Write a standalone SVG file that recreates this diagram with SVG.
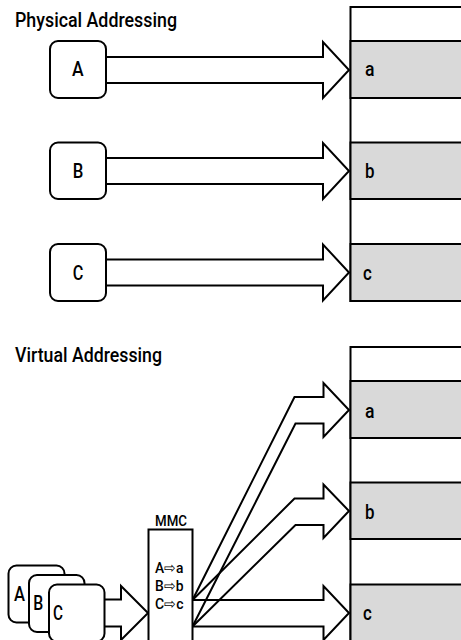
<svg xmlns="http://www.w3.org/2000/svg" width="461" height="640" viewBox="0 0 461 640">
<style>
  .t { font-family: "Roboto", "Liberation Sans", sans-serif; font-weight: 500; fill: #000; }
  .title { font-size: 20px; }
  .lbl { font-size: 21px; }
  .box { fill: #fff; stroke: #000; stroke-width: 2; }
  .mem { fill: #fff; stroke: #000; stroke-width: 2; }
  .row { fill: #d9d9d9; stroke: #000; stroke-width: 2; }
  .arr { fill: #fff; stroke: #000; stroke-width: 2; stroke-linejoin: miter; }
  .bent { fill: none; stroke: #000; stroke-width: 2; stroke-linejoin: miter; }
</style>

<text class="t title" x="15" y="26.5" textLength="162" lengthAdjust="spacingAndGlyphs">Physical Addressing</text>
<text class="t title" x="15" y="362" textLength="147" lengthAdjust="spacingAndGlyphs">Virtual Addressing</text>

<!-- Physical memory column -->
<g id="physical-memory">
  <rect class="mem" x="350.5" y="7" width="130" height="294"/>
  <rect class="row" x="350.5" y="41" width="130" height="57"/>
  <rect class="row" x="350.5" y="142.5" width="130" height="56.5"/>
  <rect class="row" x="350.5" y="244" width="130" height="57"/>
  <text class="t lbl" x="365" y="76" textLength="9.5" lengthAdjust="spacingAndGlyphs">a</text>
  <text class="t lbl" x="365" y="177.5" textLength="9.5" lengthAdjust="spacingAndGlyphs">b</text>
  <text class="t lbl" x="363" y="280" textLength="8.8" lengthAdjust="spacingAndGlyphs">c</text>
</g>

<!-- Virtual memory column -->
<g id="virtual-memory">
  <rect class="mem" x="350.5" y="347" width="130" height="310"/>
  <rect class="row" x="350.5" y="381" width="130" height="57"/>
  <rect class="row" x="350.5" y="482.5" width="130" height="56.5"/>
  <rect class="row" x="350.5" y="584.5" width="130" height="70"/>
  <text class="t lbl" x="365" y="417.5" textLength="9.5" lengthAdjust="spacingAndGlyphs">a</text>
  <text class="t lbl" x="365" y="518.5" textLength="9.5" lengthAdjust="spacingAndGlyphs">b</text>
  <text class="t lbl" x="363" y="620" textLength="8.8" lengthAdjust="spacingAndGlyphs">c</text>
</g>

<g id="connectors">
  <!-- physical -->
  <path class="arr" d="M106,57 L323,57 L323,42 L349,70 L323,98 L323,83 L106,83"/>
  <path class="arr" d="M106,158 L323,158 L323,143 L349,171 L323,199 L323,184 L106,184"/>
  <path class="arr" d="M106,259.5 L323,259.5 L323,244.5 L349,272.5 L323,300.5 L323,285.5 L106,285.5"/>
  <!-- virtual -->
  <path class="arr" d="M104,599.5 L121,599.5 L121,586 L148,613 L121,640 L121,626.5 L104,626.5"/>
  <path class="bent" d="M192.5,600 L294.5,397 L323.5,397 L323.5,383 L349,410 L323.5,437 L323.5,423.5 L295.5,423.5 L192.5,626.5"/>
  <path class="bent" d="M192.5,600 L294.5,498.5 L323.5,498.5 L323.5,484.5 L349,511 L323.5,538 L323.5,525 L295.5,525 L192.5,626.5"/>
  <path class="bent" d="M192.5,600 L323.5,600 L323.5,586 L349,613 L323.5,640 L323.5,626.5 L192.5,626.5"/>
</g>

<g id="node-A">
  <rect class="box" x="50" y="41" width="56" height="57" rx="8"/>
  <text class="t lbl" x="72" y="75.5" textLength="11.6" lengthAdjust="spacingAndGlyphs">A</text>
</g>
<g id="node-B">
  <rect class="box" x="50" y="142.5" width="56" height="56.5" rx="8"/>
  <text class="t lbl" x="72.7" y="177.7" textLength="10.6" lengthAdjust="spacingAndGlyphs">B</text>
</g>
<g id="node-C">
  <rect class="box" x="50" y="244" width="56" height="57" rx="8"/>
  <text class="t lbl" x="72.7" y="280" textLength="10.6" lengthAdjust="spacingAndGlyphs">C</text>
</g>

<g id="stack-A">
  <rect class="box" x="8.5" y="565.5" width="56" height="57" rx="8"/>
  <text class="t lbl" x="14" y="601" textLength="11" lengthAdjust="spacingAndGlyphs">A</text>
</g>
<g id="stack-B">
  <rect class="box" x="29" y="575" width="55.5" height="57" rx="8"/>
  <text class="t lbl" x="33.3" y="610" textLength="10" lengthAdjust="spacingAndGlyphs">B</text>
</g>
<g id="stack-C">
  <rect class="box" x="49" y="584.5" width="55.5" height="57" rx="8"/>
  <text class="t lbl" x="53" y="620" textLength="10" lengthAdjust="spacingAndGlyphs">C</text>
</g>

<g id="mmc">
  <text class="t" style="font-size:15.5px" x="155" y="526" textLength="32" lengthAdjust="spacingAndGlyphs">MMC</text>
  <rect class="box" x="148.5" y="529.5" width="44" height="120"/>
  <text class="t" style="font-size:15px" x="155" y="573" textLength="28.5" lengthAdjust="spacingAndGlyphs">A⇨a</text>
  <text class="t" style="font-size:15px" x="155" y="591" textLength="28.5" lengthAdjust="spacingAndGlyphs">B⇨b</text>
  <text class="t" style="font-size:15px" x="155" y="609" textLength="28.5" lengthAdjust="spacingAndGlyphs">C⇨c</text>
</g>
</svg>
